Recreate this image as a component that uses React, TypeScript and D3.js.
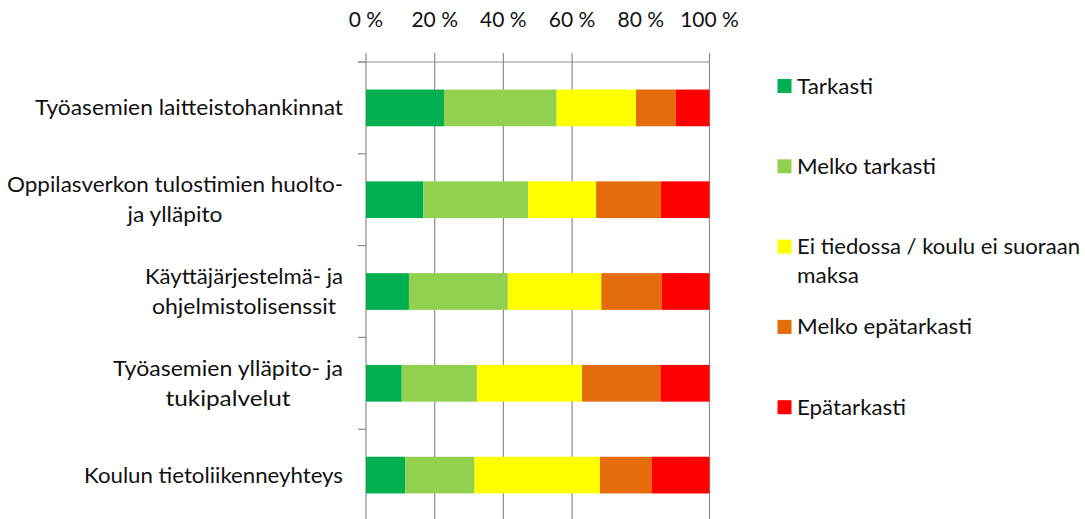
import React from 'react';
import * as d3 from 'd3';

// ---- data ----
const categories = [
  'Työasemien laitteistohankinnat',
  'Oppilasverkon tulostimien huolto- ja ylläpito',
  'Käyttäjärjestelmä- ja ohjelmistolisenssit',
  'Työasemien ylläpito- ja tukipalvelut',
  'Koulun tietoliikenneyhteys',
];
const categoryLines = [
  ['Työasemien laitteistohankinnat'],
  ['Oppilasverkon tulostimien huolto-', 'ja ylläpito'],
  ['Käyttäjärjestelmä- ja', 'ohjelmistolisenssit'],
  ['Työasemien ylläpito- ja', 'tukipalvelut'],
  ['Koulun tietoliikenneyhteys'],
];
const seriesNames = ['Tarkasti', 'Melko tarkasti', 'Ei tiedossa / koulu ei suoraan maksa', 'Melko epätarkasti', 'Epätarkasti'];
const legendLines = [['Tarkasti'], ['Melko tarkasti'], ['Ei tiedossa / koulu ei suoraan', 'maksa'], ['Melko epätarkasti'], ['Epätarkasti']];
const tarkasti = [22.7, 16.7, 12.5, 10.4, 11.4];
const melkoTarkasti = [32.8, 30.5, 28.8, 21.9, 20.2];
const eiTiedossa = [23.1, 19.8, 27.2, 30.6, 36.5];
const melkoEpatarkasti = [11.6, 18.8, 17.5, 22.8, 15.0];
const epatarkasti = [9.8, 14.2, 14.0, 14.3, 16.9];
const tickValues = [0, 20, 40, 60, 80, 100];
const tickLabels = ['0 %', '20 %', '40 %', '60 %', '80 %', '100 %'];

// ---- styling / layout ----
const colors = ['#00B050', '#92D050', '#FFFF00', '#E46C0A', '#FF0000'];
const FONT = 'Lato, "Open Sans", sans-serif';
const catLineWidths = [[308], [336, 95], [198, 184], [230, 125], [259]];
const legendLineWidths = [[76], [139], [283, 62], [175], [109]];
const gridShown = [true, true, true, true, false, true];

export default function App() {
  const W = 1085, H = 519;
  const x = d3.scaleLinear().domain([0, 100]).range([366, 709.5]);
  const y = d3.scaleBand<string>().domain(categories).range([62, 521]).paddingInner(0.6).paddingOuter(0.3);
  const step = y.step();

  const rows = categories.map((c, i) => ({
    cat: c,
    vals: [tarkasti[i], melkoTarkasti[i], eiTiedossa[i], melkoEpatarkasti[i], epatarkasti[i]],
  }));
  const stackData = rows.map(r => {
    const o: any = { cat: r.cat };
    seriesNames.forEach((s, k) => (o[s] = r.vals[k]));
    return o;
  });
  const stacked = d3.stack<any>().keys(seriesNames)(stackData);

  const legendY = d3.scaleLinear().domain([0, 4]).range([86, 407.2]);

  return (
    <svg width={W} height={H} style={{ display: 'block', position: 'absolute', left: 0, top: 0 }}>
      <rect width={W} height={H} fill="#fff" />
      {/* gridlines */}
      {tickValues.map((t, i) =>
        gridShown[i] ? (
          <line key={'g' + t} x1={x(t)} x2={x(t)} y1={53} y2={521} stroke="#8c8c8c" strokeWidth={1.2} />
        ) : null
      )}
      {/* top axis line */}
      <line x1={358} x2={x(100)} y1={62} y2={62} stroke="#8c8c8c" strokeWidth={1.2} />
      {/* category ticks */}
      {categories.map((c, i) => (
        <line key={'ct' + i} x1={358} x2={366} y1={62 + i * step} y2={62 + i * step} stroke="#8c8c8c" strokeWidth={1.2} />
      ))}
      {/* bars */}
      {stacked.map((s, k) =>
        s.map((d, i) => (
          <rect
            key={k + '-' + i}
            x={x(d[0])}
            y={y(categories[i])}
            width={x(d[1]) - x(d[0])}
            height={y.bandwidth()}
            fill={colors[k]}
          />
        ))
      )}
      {/* tick labels */}
      {tickValues.map((t, i) => (
        <text key={'tl' + t} x={x(t)} y={27} textAnchor="middle" fontFamily={FONT} fontSize={21} fill="#111">
          {tickLabels[i]}
        </text>
      ))}
      {/* category labels */}
      {categoryLines.map((lines, i) => {
        const cy = (y(categories[i]) as number) + y.bandwidth() / 2;
        const maxW = Math.max(...catLineWidths[i]);
        const cx = 343 - maxW / 2;
        const lh = 30;
        const first = cy + 7.5 - ((lines.length - 1) * lh) / 2;
        return lines.map((ln, j) => (
          <text
            key={'cl' + i + j}
            x={cx}
            y={first + j * lh}
            textAnchor="middle"
            fontFamily={FONT}
            fontSize={21}
            fill="#111"
            textLength={catLineWidths[i][j]}
            lengthAdjust="spacingAndGlyphs"
          >
            {ln}
          </text>
        ));
      })}
      {/* legend */}
      {seriesNames.map((s, k) => {
        const ly = legendY(k);
        return (
          <g key={'lg' + k}>
            <rect x={777.5} y={ly - 7} width={14} height={14} fill={colors[k]} />
            {legendLines[k].map((ln, j) => (
              <text
                key={j}
                x={797}
                y={ly + 7.5 + j * 28.5}
                fontFamily={FONT}
                fontSize={21}
                fill="#111"
                textLength={legendLineWidths[k][j]}
                lengthAdjust="spacingAndGlyphs"
              >
                {ln}
              </text>
            ))}
          </g>
        );
      })}
    </svg>
  );
}
